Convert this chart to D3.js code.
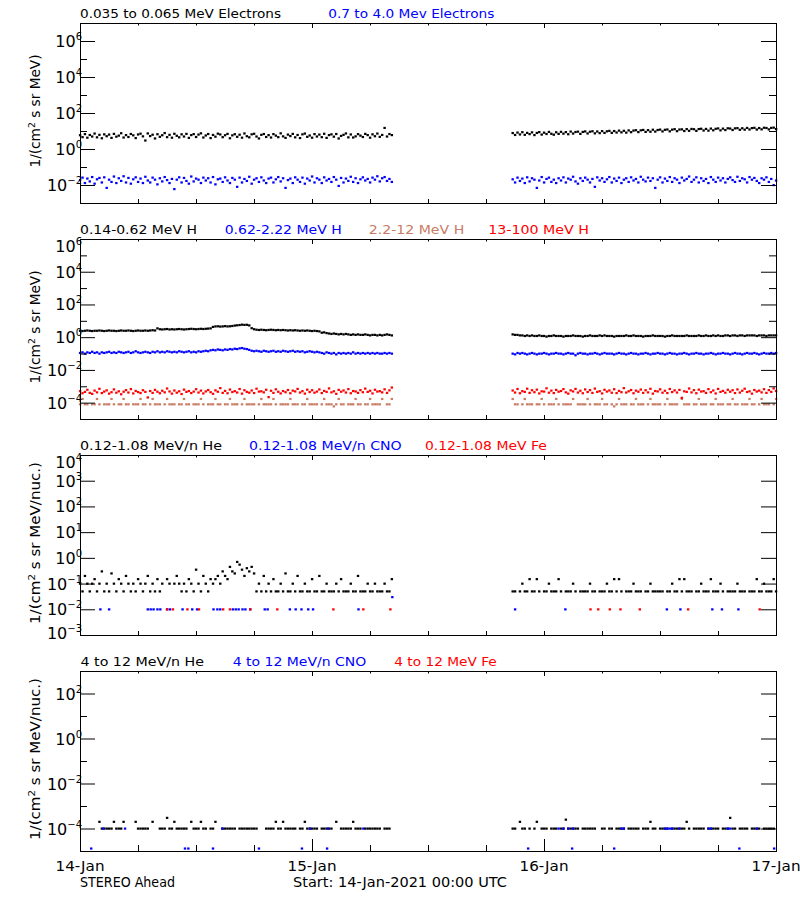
<!DOCTYPE html>
<html><head><meta charset="utf-8">
<script src="https://cdn.jsdelivr.net/npm/d3@7"></script>
<style>body{margin:0;background:#fff}svg{display:block}text{font-family:"DejaVu Sans",sans-serif}</style>
</head><body><svg id="c" width="800" height="900"></svg>
<script>
// ---------------- DATA ----------------
const dayLabels = ["14-Jan","15-Jan","16-Jan","17-Jan"];
const dayHours = [0,24,48,72];
const seg1Start = 0, seg2Start = 44.75, stepH = 0.25; // hours since 14-Jan 00:00, 15-min samples

const legend1 = ["0.035 to 0.065 MeV Electrons","0.7 to 4.0 Mev Electrons"];
const legend2 = ["0.14-0.62 MeV H","0.62-2.22 MeV H","2.2-12 MeV H","13-100 MeV H"];
const legend3 = ["0.12-1.08 MeV/n He","0.12-1.08 MeV/n CNO","0.12-1.08 MeV Fe"];
const legend4 = ["4 to 12 MeV/n He","4 to 12 MeV/n CNO","4 to 12 MeV Fe"];

// Panel 1: electrons
const eLowA = [5.9,4.6,6.8,4.3,6.1,5.0,7.3,4.5,6.2,4.0,6.6,5.2,6.4,4.2,7.0,4.9,5.6,7.6,4.4,6.0,
4.7,6.9,5.8,4.1,6.5,7.2,5.1,3.0,7.4,5.3,6.3,3.9,6.7,4.8,5.9,7.8,4.6,6.2,4.3,7.1,
5.5,4.5,6.6,5.0,7.0,4.2,6.0,6.8,4.7,6.4,7.5,4.4,5.7,6.9,4.1,6.1,4.9,7.2,6.5,4.6,
5.9,7.0,4.0,5.8,6.7,4.8,6.3,4.3,7.4,5.2,4.5,6.6,7.1,5.0,3.9,6.2,6.9,4.7,6.0,4.4,
6.8,5.6,4.6,7.5,5.1,4.2,6.4,5.3,7.0,4.5,6.1,4.1,6.6,7.3,4.8,5.7,4.3,6.8,5.0,6.4,
4.6,7.1,4.2,6.0,6.6,4.9,6.9,3.9,5.4,6.2,7.4,4.5,6.5,4.4,5.1,6.8,5.6,4.7,7.0,6.0,
4.3,6.6,5.2,7.3,4.8,6.1,15,5.0,6.9,6.0];
const eLowB = [7.8,6.1,8.3,6.5,8.7,6.2,8.0,6.8,8.5,6.0,7.9,8.8,6.4,8.2,6.9,9.0,7.1,6.3,8.6,7.0,
9.1,7.2,8.8,6.7,9.4,7.3,8.9,9.3,7.0,9.0,9.6,7.4,9.2,9.8,7.5,9.5,7.7,10.0,7.9,9.7,
10.3,8.0,10.1,8.3,10.6,8.5,10.4,8.2,10.9,8.7,10.7,11.2,8.8,11.0,11.6,9.0,11.3,9.2,11.9,9.4,
11.5,12.1,9.6,11.8,12.3,9.7,12.0,12.8,9.9,12.2,12.5,10.1,12.9,10.4,13.2,12.7,10.3,13.0,13.5,10.8,
13.2,10.6,13.8,11.1,13.4,14.1,11.0,13.7,11.4,14.3,13.9,11.5,14.2,14.6,11.8,14.4,12.0,15.0,12.3,14.7,
15.2,12.2,14.8,12.5,15.4,14.9,12.4,15.1,15.6,13.0];
const eHighA = [0.019,0.026,0.013,0.023,0.016,0.028,0.012,0.021,0.025,0.014,0.027,0.007,0.020,0.015,0.030,0.013,0.024,0.017,0.031,0.014,
0.025,0.012,0.021,0.027,0.015,0.023,0.013,0.029,0.018,0.014,0.026,0.020,0.011,0.024,0.016,0.028,0.019,0.013,0.022,0.006,
0.020,0.027,0.014,0.025,0.017,0.012,0.030,0.016,0.023,0.020,0.013,0.026,0.018,0.024,0.014,0.028,0.011,0.021,0.023,0.015,
0.027,0.018,0.013,0.025,0.020,0.008,0.026,0.014,0.022,0.017,0.029,0.012,0.020,0.024,0.015,0.027,0.018,0.013,0.023,0.026,
0.014,0.021,0.028,0.016,0.024,0.007,0.019,0.023,0.013,0.027,0.020,0.015,0.026,0.012,0.023,0.018,0.030,0.014,0.024,0.020,
0.013,0.027,0.018,0.022,0.015,0.028,0.020,0.009,0.025,0.014,0.023,0.017,0.029,0.015,0.024,0.013,0.021,0.027,0.018,0.022,
0.014,0.026,0.020,0.031,0.016,0.024,0.028,0.017,0.022,0.015];
const eHighB = [0.021,0.014,0.026,0.017,0.023,0.013,0.027,0.016,0.024,0.020,0.007,0.018,0.028,0.014,0.022,0.026,0.015,0.020,0.013,0.024,
0.018,0.027,0.014,0.023,0.020,0.029,0.016,0.012,0.024,0.017,0.026,0.020,0.014,0.022,0.008,0.027,0.018,0.024,0.015,0.021,
0.028,0.014,0.023,0.017,0.026,0.013,0.020,0.024,0.015,0.027,0.018,0.022,0.014,0.029,0.020,0.016,0.026,0.017,0.024,0.007,
0.020,0.027,0.014,0.023,0.017,0.028,0.015,0.024,0.020,0.013,0.026,0.018,0.022,0.030,0.015,0.020,0.027,0.014,0.024,0.017,
0.022,0.013,0.028,0.020,0.015,0.026,0.018,0.024,0.014,0.022,0.027,0.019,0.015,0.029,0.017,0.024,0.021,0.014,0.028,0.020,
0.025,0.017,0.013,0.024,0.020,0.027,0.015,0.022,0.010,0.018];

// Panel 2: protons
const h1A = [2.5,2.4,2.5,2.6,2.5,2.4,2.5,2.5,2.6,2.5,2.4,2.5,2.6,2.5,2.5,2.4,2.5,2.6,2.5,2.5,
2.6,2.5,2.4,2.5,2.6,2.5,2.5,2.6,2.5,2.6,2.7,2.6,
3.5,3.1,3.0,3.1,3.2,3.0,3.1,3.0,3.1,3.2,3.1,3.0,3.1,3.2,3.3,3.2,3.1,3.2,3.3,3.2,3.3,3.4,3.5,
4.3,4.6,4.7,4.5,4.6,4.8,4.6,4.7,4.9,
5.2,5.4,5.6,5.9,5.7,5.8,5.3,
3.6,3.1,
2.9,2.8,2.9,2.8,2.7,2.8,2.9,2.8,2.7,2.8,2.7,2.8,2.7,2.6,2.7,2.6,2.7,2.6,2.5,2.6,2.5,2.6,2.5,2.4,2.5,2.4,2.3,
1.9,2.0,1.8,1.7,1.6,1.7,1.6,1.5,1.6,1.5,1.6,1.5,1.4,1.5,1.4,1.5,1.4,1.4,1.5,1.4,1.3,1.4,1.4,1.3,1.4,1.3,1.4,1.5,1.4,1.3];
const h1B = [1.5,1.4,1.4,1.3,1.3,1.2,1.3,1.2,1.3,1.2,1.2,1.3,1.2,1.2,1.1,1.2,1.2,1.3,1.2,1.2,
1.2,1.1,1.2,1.2,1.2,1.3,1.2,1.2,1.2,1.1,1.2,1.2,1.3,1.2,1.2,1.2,1.3,1.2,1.3,1.2,
1.2,1.2,1.1,1.2,1.2,1.2,1.2,1.3,1.2,1.2,1.3,1.2,1.2,1.2,1.1,1.2,1.2,1.2,1.3,1.2,
1.2,1.2,1.2,1.1,1.2,1.2,1.3,1.2,1.2,1.2,1.2,1.2,1.3,1.2,1.2,1.2,1.2,1.3,1.2,1.2,
1.3,1.2,1.2,1.3,1.2,1.3,1.2,1.2,1.3,1.3,1.2,1.3,1.3,1.2,1.3,1.3,1.2,1.3,1.3,1.3,
1.3,1.2,1.3,1.3,1.3,1.2,1.3,1.3,1.3,1.3];
const h2A = [0.11,0.12,0.10,0.12,0.11,0.13,0.11,0.12,0.10,0.12,0.11,0.12,0.13,0.11,0.12,0.11,0.13,0.12,0.11,0.12,
0.13,0.11,0.12,0.14,0.12,0.11,0.12,0.13,0.12,0.11,0.13,0.12,0.14,0.12,0.13,0.12,0.14,0.13,0.12,0.13,
0.12,0.14,0.13,0.12,0.13,0.14,0.12,0.13,0.12,0.14,0.13,0.14,0.15,0.14,0.16,0.17,0.16,0.18,0.17,0.16,
0.18,0.17,0.19,0.18,0.20,0.19,0.21,0.22,0.20,0.19,0.17,0.15,0.14,0.15,0.14,0.13,0.15,0.14,0.13,0.14,
0.15,0.13,0.14,0.13,0.15,0.14,0.13,0.14,0.15,0.13,0.14,0.13,0.14,0.12,0.13,0.14,0.13,0.12,0.13,0.12,
0.11,0.10,0.12,0.11,0.10,0.11,0.09,0.11,0.10,0.11,0.10,0.11,0.10,0.12,0.10,0.11,0.10,0.11,0.10,0.11,
0.10,0.11,0.10,0.11,0.10,0.10,0.11,0.10,0.11,0.10];
const h2B = [0.10,0.09,0.11,0.10,0.11,0.10,0.09,0.10,0.11,0.10,0.09,0.10,0.10,0.11,0.10,0.09,0.10,0.10,0.11,0.10,
0.10,0.09,0.10,0.11,0.10,0.10,0.08,0.10,0.11,0.10,0.10,0.09,0.10,0.10,0.11,0.10,0.09,0.10,0.11,0.10,
0.10,0.10,0.09,0.10,0.11,0.10,0.10,0.09,0.10,0.11,0.10,0.10,0.09,0.10,0.10,0.11,0.10,0.09,0.10,0.10,
0.11,0.10,0.10,0.09,0.10,0.11,0.10,0.10,0.09,0.10,0.10,0.11,0.10,0.09,0.10,0.10,0.11,0.10,0.10,0.09,
0.10,0.10,0.11,0.10,0.09,0.10,0.10,0.11,0.10,0.10,0.09,0.10,0.11,0.10,0.10,0.09,0.10,0.11,0.10,0.10,
0.11,0.10,0.09,0.10,0.11,0.10,0.10,0.11,0.10,0.11];
const h3A = [8e-5,1.7e-4,8e-5,8e-5,null,8e-5,8e-5,1.7e-4,8e-5,null,8e-5,8e-5,8e-5,1.7e-4,8e-5,null,8e-5,8e-5,1.7e-4,8e-5,
8e-5,null,8e-5,8e-5,8e-5,1.7e-4,8e-5,8e-5,null,8e-5,1.7e-4,8e-5,8e-5,8e-5,null,8e-5,1.7e-4,8e-5,8e-5,8e-5,
null,8e-5,8e-5,1.7e-4,8e-5,8e-5,null,8e-5,8e-5,8e-5,1.7e-4,8e-5,null,8e-5,8e-5,8e-5,1.7e-4,8e-5,8e-5,null,
8e-5,8e-5,1.7e-4,8e-5,8e-5,8e-5,null,8e-5,1.7e-4,8e-5,8e-5,8e-5,8e-5,null,8e-5,1.7e-4,8e-5,8e-5,8e-5,8e-5,
1.7e-4,8e-5,null,8e-5,8e-5,8e-5,8e-5,1.7e-4,8e-5,8e-5,8e-5,null,8e-5,8e-5,1.7e-4,8e-5,8e-5,8e-5,8e-5,null,
8e-5,1.7e-4,8e-5,8e-5,8e-5,6e-5,8e-5,1.7e-4,8e-5,8e-5,null,8e-5,8e-5,8e-5,1.7e-4,8e-5,8e-5,null,8e-5,8e-5,
1.7e-4,8e-5,8e-5,8e-5,8e-5,1.7e-4,null,8e-5,8e-5,1.7e-4];
const h3B = [1.7e-4,8e-5,8e-5,null,8e-5,1.7e-4,8e-5,8e-5,8e-5,null,8e-5,8e-5,1.7e-4,8e-5,null,8e-5,8e-5,8e-5,1.7e-4,8e-5,
null,8e-5,8e-5,8e-5,8e-5,1.7e-4,null,8e-5,8e-5,8e-5,8e-5,1.7e-4,8e-5,null,8e-5,8e-5,8e-5,1.7e-4,8e-5,8e-5,
null,8e-5,6e-5,8e-5,1.7e-4,8e-5,8e-5,8e-5,null,8e-5,8e-5,1.7e-4,8e-5,8e-5,8e-5,null,8e-5,1.7e-4,8e-5,8e-5,
8e-5,8e-5,null,8e-5,1.7e-4,8e-5,8e-5,8e-5,8e-5,null,1.7e-4,8e-5,8e-5,8e-5,null,8e-5,8e-5,1.7e-4,8e-5,8e-5,
8e-5,null,8e-5,8e-5,1.7e-4,8e-5,8e-5,8e-5,null,8e-5,8e-5,1.7e-4,8e-5,8e-5,null,8e-5,8e-5,8e-5,1.7e-4,8e-5,
8e-5,null,8e-5,1.7e-4,8e-5,8e-5,8e-5,null,8e-5,1.7e-4];
const h4A = [5.1e-4,3.8e-4,4.6e-4,6.2e-4,4.0e-4,3.5e-4,5.5e-4,4.3e-4,7.1e-4,3.9e-4,4.8e-4,5.7e-4,3.6e-4,4.4e-4,6.5e-4,4.1e-4,5.0e-4,3.3e-4,4.7e-4,5.9e-4,
4.2e-4,6.8e-4,3.7e-4,5.3e-4,4.5e-4,3.9e-4,5.8e-4,4.6e-4,2.1e-4,5.2e-4,4.0e-4,6.1e-4,4.7e-4,3.8e-4,5.4e-4,4.3e-4,7.4e-4,4.9e-4,3.6e-4,5.6e-4,
4.1e-4,5.0e-4,3.4e-4,6.3e-4,4.6e-4,5.2e-4,3.9e-4,4.8e-4,6.7e-4,4.2e-4,5.5e-4,3.7e-4,4.9e-4,6.0e-4,4.4e-4,3.5e-4,5.7e-4,4.7e-4,7.8e-4,4.0e-4,
5.3e-4,3.8e-4,6.4e-4,4.5e-4,5.1e-4,4.2e-4,6.9e-4,3.6e-4,5.8e-4,4.6e-4,4.1e-4,5.6e-4,3.9e-4,7.2e-4,4.8e-4,5.0e-4,4.3e-4,6.2e-4,2.2e-4,5.4e-4,
4.0e-4,6.6e-4,4.7e-4,3.7e-4,5.2e-4,4.4e-4,6.0e-4,3.8e-4,5.5e-4,4.9e-4,7.0e-4,4.2e-4,5.1e-4,3.6e-4,6.3e-4,4.5e-4,5.8e-4,4.1e-4,4.8e-4,6.5e-4,
3.9e-4,5.3e-4,4.6e-4,7.5e-4,4.3e-4,5.0e-4,3.5e-4,6.1e-4,4.7e-4,5.6e-4,4.2e-4,6.8e-4,3.8e-4,5.2e-4,4.9e-4,4.0e-4,5.9e-4,4.4e-4,7.3e-4,4.6e-4,
5.4e-4,3.7e-4,6.2e-4,4.8e-4,5.1e-4,4.3e-4,6.6e-4,4.0e-4,5.7e-4,8.5e-4];
const h4B = [5.6e-4,4.2e-4,6.9e-4,3.8e-4,5.1e-4,4.6e-4,7.2e-4,4.0e-4,5.8e-4,4.4e-4,6.3e-4,3.7e-4,5.0e-4,4.8e-4,7.6e-4,4.1e-4,5.5e-4,3.9e-4,6.1e-4,4.7e-4,
5.2e-4,6.8e-4,4.3e-4,3.6e-4,5.7e-4,4.9e-4,7.0e-4,4.2e-4,5.4e-4,3.8e-4,6.5e-4,4.5e-4,5.9e-4,4.0e-4,7.3e-4,4.6e-4,5.1e-4,3.7e-4,6.2e-4,4.8e-4,
5.6e-4,4.1e-4,6.7e-4,3.9e-4,5.3e-4,4.4e-4,7.8e-4,4.2e-4,5.0e-4,6.0e-4,3.8e-4,5.5e-4,4.7e-4,6.4e-4,4.0e-4,5.8e-4,4.3e-4,7.1e-4,3.6e-4,5.2e-4,
4.9e-4,6.6e-4,4.1e-4,5.4e-4,3.9e-4,6.9e-4,4.5e-4,5.7e-4,4.2e-4,6.1e-4,2.0e-4,5.0e-4,4.6e-4,7.4e-4,4.3e-4,5.9e-4,3.8e-4,6.3e-4,4.8e-4,5.1e-4,
4.0e-4,6.8e-4,4.4e-4,5.6e-4,3.7e-4,7.0e-4,4.6e-4,5.3e-4,4.1e-4,6.2e-4,4.7e-4,5.8e-4,3.9e-4,6.5e-4,4.2e-4,5.4e-4,7.2e-4,4.5e-4,5.0e-4,3.6e-4,
6.0e-4,4.8e-4,5.5e-4,4.3e-4,6.7e-4,4.0e-4,5.9e-4,4.6e-4,7.5e-4,5.2e-4];

// Panel 3: 0.12-1.08 MeV/n ions
const heLowA = [0.1,0.05,0.2,0.1,0.05,0.1,0.15,0.05,0.1,0.3,0.05,0.1,0.05,0.25,0.1,0.05,0.15,0.1,0.05,0.2,
0.1,0.05,0.1,0.05,0.15,0.1,0.05,0.1,0.2,0.05,0.1,0.05,0.15,0.05,0.1,null,0.15,0.1,null,0.1,
0.2,0.1,0.05,0.1,0.05,0.15,0.1,0.05,0.35,0.1,0.05,0.2,0.1,0.05,0.15,0.1,0.15,0.2,0.1,0.3,
0.2,0.15,0.45,0.3,0.25,0.7,0.55,0.35,0.2,0.4,0.3,0.45,0.25,0.05,0.1,0.05,0.2,0.05,0.1,0.05,
0.15,0.05,0.05,0.1,0.05,0.25,0.05,0.05,0.1,0.05,0.2,0.05,0.05,0.1,0.05,0.05,0.15,0.05,0.05,0.2,
0.05,0.05,0.1,0.05,0.05,0.05,0.1,0.05,0.15,0.05,0.05,0.05,0.1,0.05,0.05,0.2,0.05,0.05,0.05,0.1,
0.05,0.05,0.1,0.05,0.05,0.05,0.1,0.05,0.05,0.15];
const heLowB = [0.05,0.05,null,0.05,0.1,0.05,0.05,0.15,0.05,0.05,0.15,0.05,null,0.05,0.05,0.1,0.05,0.05,0.05,0.15,
0.05,null,0.05,0.05,0.05,0.1,0.05,null,0.05,0.05,0.05,0.05,0.1,0.05,0.05,null,0.05,0.05,0.05,0.1,
0.05,0.05,0.15,0.05,0.15,0.05,null,0.05,0.05,0.05,0.1,0.05,0.05,0.05,null,0.05,0.05,0.1,0.05,0.05,
0.05,0.05,0.05,null,0.05,0.05,0.1,0.05,0.05,0.15,0.05,0.15,0.05,0.05,0.05,null,0.05,0.05,0.1,0.05,
0.05,0.05,0.15,0.05,0.05,0.05,0.1,0.05,null,0.05,0.05,0.05,0.05,0.1,0.05,0.05,0.05,null,0.05,0.05,
0.05,0.15,0.05,0.05,0.1,0.05,0.05,0.05,0.15,0.05];
const cnoLowT = [2.1,3.0,7.0,7.3,7.6,8.0,8.3,9.0,9.3,10.6,11.6,12.1,13.8,14.2,14.5,15.8,16.1,16.4,16.8,17.1,17.6,19.1,19.4,21.7,22.3,22.9,23.6,24.1,28.8,32.3,45.0,50.2,60.7,62.1,65.4,66.4,68.1];
const cnoLowV = [0.01,0.01,0.01,0.01,0.01,0.01,0.01,0.01,0.01,0.01,0.01,0.01,0.01,0.01,0.01,0.01,0.01,0.01,0.01,0.01,0.01,0.01,0.01,0.01,0.01,0.01,0.01,0.01,0.01,0.03,0.01,0.01,0.01,0.01,0.01,0.01,0.01];
const feLowT = [9.0,9.6,11.1,12.3,14.8,15.5,17.6,20.4,26.2,29.3,32.1,52.8,53.6,54.8,55.9,57.9,62.9,70.3];
const feLowV = [0.01,0.01,0.01,0.01,0.01,0.01,0.01,0.01,0.01,0.01,0.01,0.01,0.01,0.01,0.01,0.01,0.01,0.01];

// Panel 4: 4-12 MeV/n ions
const heHighA = [null,null,null,null,null,null,null,null,2e-4,1e-4,1e-4,1e-4,1e-4,1e-4,2e-4,1e-4,1e-4,1e-4,2e-4,null,
null,null,null,2e-4,1e-4,1e-4,1e-4,1e-4,1e-4,null,2e-4,null,null,1e-4,1e-4,1e-4,3e-4,1e-4,1e-4,2e-4,
1e-4,1e-4,1e-4,1e-4,1e-4,null,2e-4,1e-4,1e-4,1e-4,2e-4,1e-4,1e-4,null,1e-4,1e-4,2e-4,null,null,1e-4,
1e-4,1e-4,1e-4,1e-4,1e-4,null,1e-4,1e-4,1e-4,1e-4,1e-4,1e-4,1e-4,1e-4,null,null,null,1e-4,1e-4,1e-4,
1e-4,2e-4,1e-4,1e-4,2e-4,1e-4,1e-4,1e-4,1e-4,1e-4,null,1e-4,1e-4,2e-4,1e-4,1e-4,1e-4,1e-4,1e-4,null,
1e-4,1e-4,1e-4,1e-4,1e-4,null,2e-4,null,1e-4,1e-4,1e-4,1e-4,1e-4,2e-4,1e-4,1e-4,1e-4,null,1e-4,1e-4,
1e-4,1e-4,1e-4,1e-4,1e-4,null,1e-4,1e-4,1e-4,null];
const heHighB = [1e-4,1e-4,null,2e-4,1e-4,1e-4,null,1e-4,null,1e-4,2e-4,null,1e-4,1e-4,1e-4,null,1e-4,1e-4,1e-4,null,
1e-4,1e-4,2.5e-4,1e-4,1e-4,1e-4,1e-4,1e-4,null,1e-4,1e-4,1e-4,1e-4,1e-4,1e-4,null,null,1e-4,1e-4,null,
1e-4,1e-4,null,1e-4,1e-4,1e-4,1e-4,null,1e-4,1e-4,1e-4,1e-4,1e-4,null,1e-4,1e-4,1e-4,2e-4,1e-4,1e-4,
null,1e-4,1e-4,1e-4,1e-4,null,1e-4,1e-4,1e-4,1e-4,1e-4,1e-4,2e-4,1e-4,null,1e-4,1e-4,1e-4,1e-4,1e-4,
null,1e-4,1e-4,1e-4,1e-4,1e-4,null,1e-4,1e-4,1e-4,3e-4,1e-4,1e-4,null,1e-4,1e-4,1e-4,1e-4,null,1e-4,
1e-4,1e-4,1e-4,null,1e-4,1e-4,1e-4,1e-4,1e-4,null];
const cnoHighT = [1.15,2.4,4.65,10.85,11.2,13.75,14.7,18.5,22.95,23.8,25.55,25.65,29.3,46.35,49.5,50.0,50.5,50.9,51.0,55.25,56.0,56.25,60.5,60.75,61.0,61.25,62.0,65.0,65.25,67.0,67.25,68.2,70.0,71.8];
const cnoHighV = [1.3e-5,1e-4,1e-4,1.3e-5,1.3e-5,1.3e-5,1e-4,1.3e-5,1.3e-5,1e-4,1.3e-5,1e-4,1e-4,1.3e-5,1e-4,1e-4,1e-4,1.3e-5,1e-4,1.3e-5,1e-4,1e-4,1e-4,1e-4,1e-4,1e-4,1e-4,1e-4,1e-4,1e-4,1e-4,1.3e-5,1e-4,1.3e-5];
const feHighT = [];
const feHighV = [];

// ---------------- DRAWING ----------------
const BLACK="#000000", BLUE="#0000ff", SIENNA="#c97b63", RED="#ff0000";
const svg = d3.select("#c");
svg.append("rect").attr("width",800).attr("height",900).attr("fill","#fff");
const X0 = 80, X1 = 776;
const x = d3.scaleLinear().domain([0,72]).range([X0,X1]);

function segPoints(a, b){
  const pts = [];
  a.forEach((v,i)=>{ if(v!=null) pts.push([seg1Start+i*stepH, v]); });
  b.forEach((v,i)=>{ if(v!=null) pts.push([seg2Start+i*stepH, v]); });
  return pts;
}
function sparse(t, v){ return t.map((tt,i)=>[tt, v[i]]); }

const panels = [
  {top:23, bottom:203, dom:[1e-3,1e7], labels:[6,4,2,0,-2], minor:[7,5,3,1,-1,-3], unit:"MeV",
   legends: legend1, lx:[80,328.3], lw:[201,166], colors:[BLACK,BLUE],
   series:[[segPoints(eLowA,eLowB),BLACK],[segPoints(eHighA,eHighB),BLUE]]},
  {top:239, bottom:419, dom:[1e-5,1e6], labels:[6,4,2,0,-2,-4], minor:[5,3,1,-1,-3,-5], unit:"MeV",
   legends: legend2, lx:[80,224.7,368.7,488.3], lw:[117,117,95.6,100.7], colors:[BLACK,BLUE,SIENNA,RED],
   series:[[segPoints(h1A,h1B),BLACK],[segPoints(h2A,h2B),BLUE],[segPoints(h3A,h3B),SIENNA],[segPoints(h4A,h4B),RED]]},
  {top:455, bottom:635, dom:[1e-3,1e4], labels:[4,3,2,1,0,-1,-2,-3], minor:[], unit:"MeV/nuc.",
   legends: legend3, lx:[80,249,425], lw:[142,152.7,121.7], colors:[BLACK,BLUE,RED],
   series:[[segPoints(heLowA,heLowB),BLACK],[sparse(cnoLowT,cnoLowV),BLUE],[sparse(feLowT,feLowV),RED]]},
  {top:671, bottom:851, dom:[1e-5,1e3], labels:[2,0,-2,-4], minor:[3,1,-1,-3,-5], unit:"MeV/nuc.",
   legends: legend4, lx:[80.5,232.7,394.3], lw:[123.5,133.6,102.4], colors:[BLACK,BLUE,RED],
   series:[[segPoints(heHighA,heHighB),BLACK],[sparse(cnoHighT,cnoHighV),BLUE],[sparse(feHighT,feHighV),RED]]}
];

const majorHours = dayHours;
const minorHours = d3.range(6,72,6).filter(h=>h%24!==0);

panels.forEach((p, pi) => {
  const y = d3.scaleLog().domain(p.dom).range([p.bottom, p.top]);
  const g = svg.append("g");
  const last = pi === panels.length-1;

  // data
  p.series.forEach(([pts,col])=>{
    g.append("g").selectAll("rect").data(pts).join("rect")
      .attr("x", d=>x(d[0])-1.1).attr("y", d=>y(d[1])-1)
      .attr("width",2.4).attr("height",2.2).attr("fill",col);
  });

  // y axes (left & right), ticks pointing inwards
  const maj = p.labels.map(e=>Math.pow(10,e));
  const mnr = p.minor.map(e=>Math.pow(10,e));
  const addY = (vals, len) => {
    g.append("g").attr("transform",`translate(${X0},0)`)
      .call(d3.axisLeft(y).tickValues(vals).tickSize(-len).tickFormat(""))
      .call(s=>s.select(".domain").remove());
    g.append("g").attr("transform",`translate(${X1},0)`)
      .call(d3.axisRight(y).tickValues(vals).tickSize(-len).tickFormat(""))
      .call(s=>s.select(".domain").remove());
  };
  addY(maj, 15);
  if (mnr.length) addY(mnr, 7);

  // x axes (bottom & top)
  const addX = (vals, lenB, lenT) => {
    g.append("g").attr("transform",`translate(0,${p.bottom})`)
      .call(d3.axisBottom(x).tickValues(vals).tickSize(-lenB).tickFormat(""))
      .call(s=>s.select(".domain").remove());
    g.append("g").attr("transform",`translate(0,${p.top})`)
      .call(d3.axisTop(x).tickValues(vals).tickSize(-lenT).tickFormat(""))
      .call(s=>s.select(".domain").remove());
  };
  addX(majorHours, last?12:4, 5);
  addX(minorHours, last?6:4, 2.5);
  g.selectAll(".tick line").attr("stroke","#000");

  // frame
  g.append("rect").attr("x",X0+0.5).attr("y",p.top+0.5).attr("width",X1-X0).attr("height",p.bottom-p.top)
    .attr("fill","none").attr("stroke","#000").attr("stroke-width",1);

  // tick labels 10^n
  p.labels.forEach(e=>{
    let by = y(Math.pow(10,e)) + 6;
    by = Math.max(by, p.top + 12.5);
    by = Math.min(by, p.bottom + 3.5);
    const t = g.append("text").attr("x",82).attr("y",by).attr("text-anchor","end")
      .attr("fill","#000").style("font-size","16px");
    t.append("tspan").text("10");
    t.append("tspan").attr("dy",-7).style("font-size","10px").text(e<0 ? "\u2212"+(-e) : String(e));
  });

  // y title
  const cy = (p.top+p.bottom)/2 - 2;
  const tt = g.append("text").attr("transform",`translate(40,${cy}) rotate(-90)`)
    .attr("text-anchor","middle").attr("fill","#000").style("font-size","14px")
    .attr("textLength", p.unit==="MeV" ? 113 : 162).attr("lengthAdjust","spacingAndGlyphs");
  tt.append("tspan").text("1/(cm");
  tt.append("tspan").attr("dy",-5).style("font-size","9.5px").text("2");
  tt.append("tspan").attr("dy",5).text(" s sr " + p.unit + ")");

  // legends
  p.legends.forEach((lab,i)=>{
    g.append("text").attr("x",p.lx[i]).attr("y",p.top-5.5).attr("fill",p.colors[i])
      .style("font-size","12px").attr("textLength",p.lw[i]).attr("lengthAdjust","spacingAndGlyphs")
      .text(lab);
  });
});

// date labels
dayLabels.forEach((d,i)=>{
  svg.append("text").attr("x",x(dayHours[i])).attr("y",870.5).attr("text-anchor","middle")
    .style("font-size","14px").attr("textLength",49).attr("lengthAdjust","spacingAndGlyphs").text(d);
});
svg.append("text").attr("x",80).attr("y",886.5).style("font-size","14px")
  .attr("textLength",95).attr("lengthAdjust","spacingAndGlyphs").text("STEREO Ahead");
svg.append("text").attr("x",293).attr("y",886.5).style("font-size","14px")
  .attr("textLength",214).attr("lengthAdjust","spacingAndGlyphs").text("Start: 14-Jan-2021 00:00 UTC");
</script></body></html>
